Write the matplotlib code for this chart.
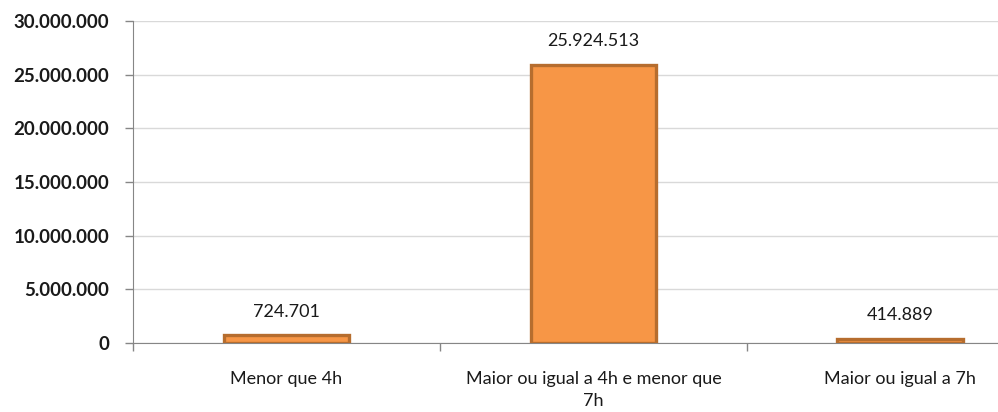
import matplotlib
matplotlib.use("Agg")
import matplotlib.pyplot as plt
from matplotlib.ticker import FuncFormatter, FixedLocator

# dados
categorias = ["Menor que 4h", "Maior ou igual a 4h e menor que\n7h", "Maior ou igual a 7h"]
valores = [724701, 25924513, 414889]
yticks = [0, 5000000, 10000000, 15000000, 20000000, 25000000, 30000000]

def fmt(v):
    return "{:,.0f}".format(v).replace(",", ".")

plt.rcParams['font.family'] = ['Lato', 'DejaVu Sans']

fig = plt.figure(figsize=(9.98, 4.12), dpi=100)
ax = fig.add_axes([133 / 998, 69 / 412, 1 - 133 / 998, 322 / 412])

x = range(len(categorias))
bars = ax.bar(x, valores, width=0.41, color="#F79646", edgecolor="#B66D2E", linewidth=2.4, zorder=3)

for b, v in zip(bars, valores):
    ax.annotate(fmt(v), (b.get_x() + b.get_width() / 2, v), xytext=(0, 11),
                textcoords="offset points", ha="center", va="bottom",
                fontsize=13, color="#1a1a1a")

ax.set_ylim(0, 30000000)
ax.set_xlim(-0.5, 2.318)
ax.yaxis.set_major_locator(FixedLocator(yticks))
ax.yaxis.set_major_formatter(FuncFormatter(lambda v, p: fmt(v)))
ax.grid(axis="y", color="#D9D9D9", linewidth=1, zorder=0)

ax.set_xticks(list(x))
ax.set_xticklabels(categorias, fontsize=13, color="#1a1a1a", linespacing=1.5)
ax.tick_params(axis="x", length=0, pad=20)
ax.set_xticks([-0.5, 0.5, 1.5], minor=True)
ax.tick_params(axis="x", which="minor", length=6, color="#868686", width=1)
ax.tick_params(axis="y", length=6, color="#868686", width=1, labelsize=13.5, pad=11)
for t in ax.get_yticklabels():
    t.set_fontweight("bold")
    t.set_color("#1a1a1a")

for s in ["top", "right"]:
    ax.spines[s].set_visible(False)
ax.spines["left"].set_color("#868686")
ax.spines["bottom"].set_color("#868686")

fig.savefig("out.png", dpi=100)
